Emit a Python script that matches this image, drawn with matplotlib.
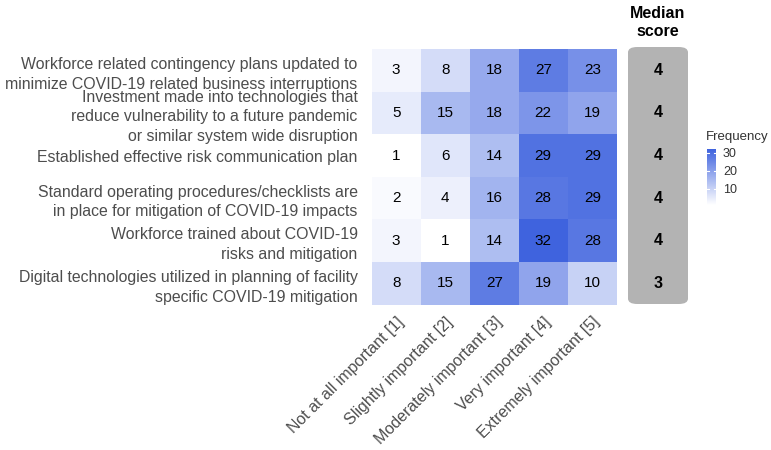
import matplotlib.pyplot as plt
import numpy as np
from matplotlib.colors import LinearSegmentedColormap
from matplotlib.patches import FancyBboxPatch

plt.rcParams['font.family'] = ['Liberation Sans', 'DejaVu Sans']

# Survey items (top to bottom)
items = [
    "Workforce related contingency plans updated to\nminimize COVID-19 related business interruptions",
    "Investment made into technologies that\nreduce vulnerability to a future pandemic\nor similar system wide disruption",
    "Established effective risk communication plan",
    "Standard operating procedures/checklists are\nin place for mitigation of COVID-19 impacts",
    "Workforce trained about COVID-19\nrisks and mitigation",
    "Digital technologies utilized in planning of facility\nspecific COVID-19 mitigation",
]
levels = ["Not at all important [1]", "Slightly important [2]",
          "Moderately important [3]", "Very important [4]",
          "Extremely important [5]"]
freq = np.array([
    [3, 8, 18, 27, 23],
    [5, 15, 18, 22, 19],
    [1, 6, 14, 29, 29],
    [2, 4, 16, 28, 29],
    [3, 1, 14, 32, 28],
    [8, 15, 27, 19, 10],
])
median = [4, 4, 4, 4, 4, 3]

cmap = LinearSegmentedColormap.from_list("wb", ["#ffffff", "#3f63de"])
txt_col = "#4d4d4d"

fig = plt.figure(figsize=(7.71, 4.5), dpi=100)
ax = fig.add_axes([0.482, 0.323, 0.318, 0.568])

nr, nc = freq.shape
mesh = ax.pcolormesh(np.arange(nc + 1), np.arange(nr + 1), freq,
                     cmap=cmap, vmin=1, vmax=32)
ax.set_xlim(0, nc)
ax.set_ylim(nr, 0)
for i in range(nr):
    for j in range(nc):
        ax.text(j + 0.5, i + 0.5, str(freq[i, j]), ha='center', va='center',
                fontsize=11, color='black')

ax.set_xticks(np.arange(nc) + 0.5)
ax.set_xticklabels(levels, rotation=45, ha='right', rotation_mode='anchor',
                   fontsize=11.5, color=txt_col)
ax.set_yticks(np.arange(nr) + 0.5)
ax.set_yticklabels(items, fontsize=11.4, color=txt_col, linespacing=1.4)
ax.tick_params(length=0, pad=7)
ax.tick_params(axis='y', pad=10)
for s in ax.spines.values():
    s.set_visible(False)

# Median score column
x0, x1 = 628 / 771, 688 / 771
y_top, y_bot = 1 - 47 / 450, 1 - 304 / 450
box = FancyBboxPatch((x0, y_bot), x1 - x0, y_top - y_bot,
                     boxstyle="round,pad=0,rounding_size=0.012",
                     transform=fig.transFigure, facecolor="#b3b3b3",
                     edgecolor="none")
fig.patches.append(box)
for i, m in enumerate(median):
    yy = fig.transFigure.inverted().transform(
        ax.transData.transform((0, i + 0.5)))[1]
    fig.text((x0 + x1) / 2, yy, str(m), ha='center', va='center',
             fontsize=11.5, fontweight='bold', color='black')
fig.text((x0 + x1) / 2, 1 - 22 / 450, "Median\nscore", ha='center', va='center',
         fontsize=11.5, fontweight='bold', color='black', linespacing=1.25)

# Colorbar legend
cax = fig.add_axes([707 / 771, 1 - 205 / 450, 9 / 771, 56 / 450])
cb = fig.colorbar(mesh, cax=cax, ticks=[10, 20, 30])
cb.outline.set_visible(False)
cax.tick_params(length=0, labelsize=9, colors='#333333', pad=5)
for t in [10, 20, 30]:
    cax.axhline(t, color='white', lw=0.8, xmin=0, xmax=0.2)
    cax.axhline(t, color='white', lw=0.8, xmin=0.8, xmax=1)
fig.text(706 / 771, 1 - 137 / 450, "Frequency", ha='left', va='center',
         fontsize=9.5, color='#333333')

fig.savefig("out.png", dpi=100)
